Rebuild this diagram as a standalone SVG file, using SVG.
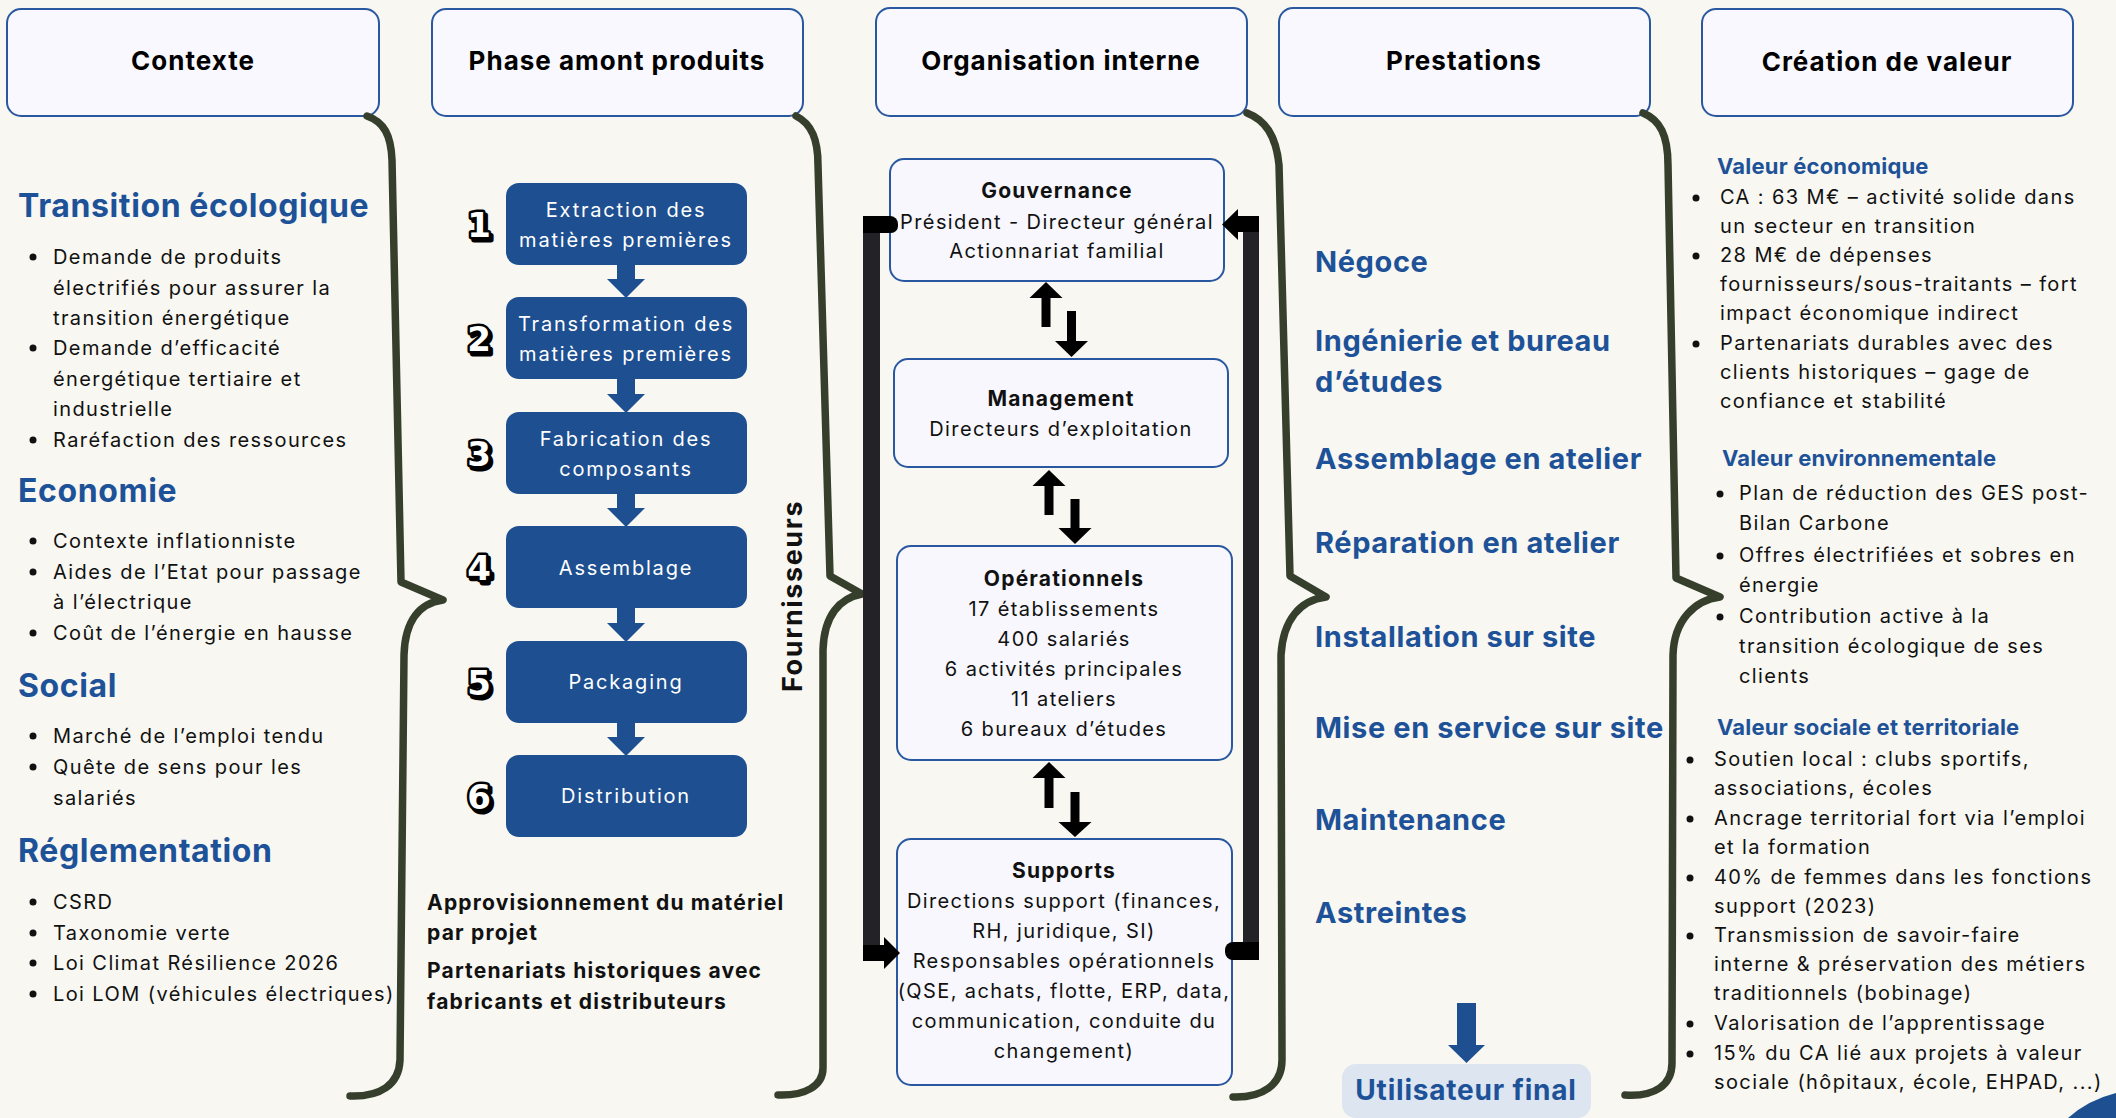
<svg xmlns="http://www.w3.org/2000/svg" width="2116" height="1118" viewBox="0 0 2116 1118">
<style>
.hdr{fill:#f8f8fe;stroke:#2a58a0;stroke-width:2}
.htx{font-family:Inter,"Noto Sans",sans-serif;font-weight:700;font-size:26px;fill:#000;text-anchor:middle;letter-spacing:1px}
.bh{font-family:Inter,"Noto Sans",sans-serif;font-weight:700;font-size:32px;fill:#1e5298;letter-spacing:0.6px}
.ph{font-family:Inter,"Noto Sans",sans-serif;font-weight:700;font-size:29px;fill:#1e5298;letter-spacing:0.6px}
.vh{font-family:Inter,"Noto Sans",sans-serif;font-weight:700;font-size:22px;fill:#1e5298;letter-spacing:0.2px}
.tx{font-family:Inter,"Noto Sans",sans-serif;font-size:20px;fill:#111;letter-spacing:1.4px}
.bk{font-family:Inter,"Noto Sans",sans-serif;font-weight:700;font-size:21px;fill:#111;letter-spacing:1.2px}
.ct{text-anchor:middle}
.wt{font-family:Inter,"Noto Sans",sans-serif;font-size:20px;fill:#fff;text-anchor:middle;letter-spacing:1.8px}
.step{fill:#1d4f91}
.org{fill:#f7f7fd;stroke:#2a58a0;stroke-width:2}
.brace{fill:none;stroke:#353f2c;stroke-width:7.5;stroke-linecap:round;stroke-linejoin:round}
.num{font-family:"DejaVu Sans",sans-serif;font-weight:700;font-size:34px;text-anchor:middle}
.bar{fill:#232327}
.blk{fill:#000}
.barr{fill:#1d4f91}
</style>
<rect width="2116" height="1118" fill="#f8f7f2"/>
<path d="M2068,1118 Q2088,1100 2116,1093 L2116,1118 Z" fill="#1d4f91"/>

<!-- headers -->
<g id="hdr-contexte"><rect class="hdr" x="7" y="9" width="372" height="107" rx="14"/><text class="htx" x="193" y="70">Contexte</text></g>
<g id="hdr-phase"><rect class="hdr" x="432" y="9" width="371" height="107" rx="14"/><text class="htx" x="617" y="70">Phase amont produits</text></g>
<g id="hdr-org"><rect class="hdr" x="876" y="8" width="371" height="108" rx="14"/><text class="htx" x="1061" y="70">Organisation interne</text></g>
<g id="hdr-prest"><rect class="hdr" x="1279" y="8" width="371" height="108" rx="14"/><text class="htx" x="1464" y="70">Prestations</text></g>
<g id="hdr-valeur"><rect class="hdr" x="1702" y="9" width="371" height="107" rx="14"/><text class="htx" x="1887" y="71">Création de valeur</text></g>

<!-- braces -->
<g id="braces">
<path class="brace" d="M367,116 C384,122 391,135 392,160 L401,582 L443,600 C420,603 405,620 404,655 L400,1060 C399,1085 380,1097 350,1096"/>
<path class="brace" d="M796,116 C812,124 818,140 818,165 L830,576 L862,594 C840,598 824,615 823,650 L823,1068 C823,1086 805,1096 778,1095"/>
<path class="brace" d="M1247,113 C1265,120 1276,135 1279,165 L1290,576 L1326,597 C1300,600 1283,620 1281,655 L1282,1060 C1282,1085 1262,1098 1233,1097"/>
<path class="brace" d="M1643,113 C1660,120 1668,135 1668,165 L1676,578 L1720,597 C1695,600 1674,620 1673,655 L1672,1063 C1672,1085 1655,1097 1625,1095"/>
</g>

<!-- Contexte column -->
<g id="contexte">
<text class="bh" x="18" y="217">Transition écologique</text>
<g fill="#111"><circle cx="33" cy="257" r="3.5"/><circle cx="33" cy="348" r="3.5"/><circle cx="33" cy="440" r="3.5"/></g>
<text class="tx" x="53" y="264">Demande de produits</text>
<text class="tx" x="53" y="295">électrifiés pour assurer la</text>
<text class="tx" x="53" y="325">transition énergétique</text>
<text class="tx" x="53" y="355">Demande d’efficacité</text>
<text class="tx" x="53" y="386">énergétique tertiaire et</text>
<text class="tx" x="53" y="416">industrielle</text>
<text class="tx" x="53" y="447">Raréfaction des ressources</text>
<text class="bh" x="18" y="502">Economie</text>
<g fill="#111"><circle cx="33" cy="541" r="3.5"/><circle cx="33" cy="572" r="3.5"/><circle cx="33" cy="633" r="3.5"/></g>
<text class="tx" x="53" y="548">Contexte inflationniste</text>
<text class="tx" x="53" y="579">Aides de l’Etat pour passage</text>
<text class="tx" x="53" y="609">à l’électrique</text>
<text class="tx" x="53" y="640">Coût de l’énergie en hausse</text>
<text class="bh" x="18" y="697">Social</text>
<g fill="#111"><circle cx="33" cy="736" r="3.5"/><circle cx="33" cy="767" r="3.5"/></g>
<text class="tx" x="53" y="743">Marché de l’emploi tendu</text>
<text class="tx" x="53" y="774">Quête de sens pour les</text>
<text class="tx" x="53" y="805">salariés</text>
<text class="bh" x="18" y="862">Réglementation</text>
<g fill="#111"><circle cx="33" cy="902" r="3.5"/><circle cx="33" cy="933" r="3.5"/><circle cx="33" cy="963" r="3.5"/><circle cx="33" cy="994" r="3.5"/></g>
<text class="tx" x="53" y="909">CSRD</text>
<text class="tx" x="53" y="940">Taxonomie verte</text>
<text class="tx" x="53" y="970">Loi Climat Résilience 2026</text>
<text class="tx" x="53" y="1001">Loi LOM (véhicules électriques)</text>
</g>

<!-- Phase amont steps -->
<g id="step1"><rect class="step" x="506" y="183" width="241" height="82" rx="13"/><text class="wt" x="626" y="217">Extraction des</text><text class="wt" x="626" y="247">matières premières</text></g>
<g id="step2"><rect class="step" x="506" y="297" width="241" height="82" rx="13"/><text class="wt" x="626" y="331">Transformation des</text><text class="wt" x="626" y="361">matières premières</text></g>
<g id="step3"><rect class="step" x="506" y="412" width="241" height="82" rx="13"/><text class="wt" x="626" y="446">Fabrication des</text><text class="wt" x="626" y="476">composants</text></g>
<g id="step4"><rect class="step" x="506" y="526" width="241" height="82" rx="13"/><text class="wt" x="626" y="575">Assemblage</text></g>
<g id="step5"><rect class="step" x="506" y="641" width="241" height="82" rx="13"/><text class="wt" x="626" y="689">Packaging</text></g>
<g id="step6"><rect class="step" x="506" y="755" width="241" height="82" rx="13"/><text class="wt" x="626" y="803">Distribution</text></g>

<g id="numbers">
<g fill="#000" stroke="#000" stroke-width="5" stroke-linejoin="round" transform="translate(2.5,2.5)">
<text class="num" x="479" y="237">1</text><text class="num" x="479" y="351">2</text><text class="num" x="479" y="466">3</text><text class="num" x="479" y="580">4</text><text class="num" x="479" y="695">5</text><text class="num" x="479" y="809">6</text>
</g>
<g fill="#fff" stroke="#000" stroke-width="5" paint-order="stroke" stroke-linejoin="round">
<text class="num" x="479" y="237">1</text><text class="num" x="479" y="351">2</text><text class="num" x="479" y="466">3</text><text class="num" x="479" y="580">4</text><text class="num" x="479" y="695">5</text><text class="num" x="479" y="809">6</text>
</g>
</g>

<g id="phase-notes">
<text class="bk" x="427" y="910">Approvisionnement du matériel</text>
<text class="bk" x="427" y="940">par projet</text>
<text class="bk" x="427" y="978">Partenariats historiques avec</text>
<text class="bk" x="427" y="1009">fabricants et distributeurs</text>
</g>

<g id="fournisseurs"><text class="bk" transform="translate(802,596) rotate(-90)" text-anchor="middle" style="font-size:27px;letter-spacing:1.6px">Fournisseurs</text></g>

<!-- Organisation -->
<g id="gouvernance"><rect class="org" x="890" y="159" width="334" height="122" rx="14"/>
<text class="bk ct" x="1057" y="198">Gouvernance</text>
<text class="tx ct" x="1057" y="229">Président - Directeur général</text>
<text class="tx ct" x="1057" y="258">Actionnariat familial</text></g>
<g id="management"><rect class="org" x="894" y="359" width="334" height="108" rx="14"/>
<text class="bk ct" x="1061" y="406">Management</text>
<text class="tx ct" x="1061" y="436">Directeurs d’exploitation</text></g>
<g id="operationnels"><rect class="org" x="897" y="546" width="335" height="214" rx="14"/>
<text class="bk ct" x="1064" y="586">Opérationnels</text>
<text class="tx ct" x="1064" y="616">17 établissements</text>
<text class="tx ct" x="1064" y="646">400 salariés</text>
<text class="tx ct" x="1064" y="676">6 activités principales</text>
<text class="tx ct" x="1064" y="706">11 ateliers</text>
<text class="tx ct" x="1064" y="736">6 bureaux d’études</text></g>
<g id="supports"><rect class="org" x="897" y="839" width="335" height="246" rx="14"/>
<text class="bk ct" x="1064" y="878">Supports</text>
<text class="tx ct" x="1064" y="908">Directions support (finances,</text>
<text class="tx ct" x="1064" y="938">RH, juridique, SI)</text>
<text class="tx ct" x="1064" y="968">Responsables opérationnels</text>
<text class="tx ct" x="1064" y="998">(QSE, achats, flotte, ERP, data,</text>
<text class="tx ct" x="1064" y="1028">communication, conduite du</text>
<text class="tx ct" x="1064" y="1058">changement)</text></g>

<!-- Prestations -->
<g id="prestations">
<text class="ph" x="1315" y="272">Négoce</text>
<text class="ph" x="1315" y="351">Ingénierie et bureau</text>
<text class="ph" x="1315" y="392">d’études</text>
<text class="ph" x="1315" y="469">Assemblage en atelier</text>
<text class="ph" x="1315" y="553">Réparation en atelier</text>
<text class="ph" x="1315" y="647">Installation sur site</text>
<text class="ph" x="1315" y="738">Mise en service sur site</text>
<text class="ph" x="1315" y="830">Maintenance</text>
<text class="ph" x="1315" y="923">Astreintes</text>
</g>
<g id="utilisateur"><rect x="1342" y="1064" width="249" height="54" rx="14" fill="#dde5f1"/>
<text class="ph ct" x="1466" y="1100" style="font-size:28px;letter-spacing:0.8px">Utilisateur final</text></g>

<!-- Création de valeur -->
<g id="valeur">
<text class="vh" x="1717" y="174">Valeur économique</text>
<g fill="#111"><circle cx="1696" cy="198" r="3.5"/><circle cx="1696" cy="256" r="3.5"/><circle cx="1696" cy="344" r="3.5"/></g>
<text class="tx" x="1720" y="204">CA : 63 M€ – activité solide dans</text>
<text class="tx" x="1720" y="233">un secteur en transition</text>
<text class="tx" x="1720" y="262">28 M€ de dépenses</text>
<text class="tx" x="1720" y="291">fournisseurs/sous-traitants – fort</text>
<text class="tx" x="1720" y="320">impact économique indirect</text>
<text class="tx" x="1720" y="350">Partenariats durables avec des</text>
<text class="tx" x="1720" y="379">clients historiques – gage de</text>
<text class="tx" x="1720" y="408">confiance et stabilité</text>
<text class="vh" x="1722" y="466">Valeur environnementale</text>
<g fill="#111"><circle cx="1720" cy="494" r="3.5"/><circle cx="1720" cy="556" r="3.5"/><circle cx="1720" cy="617" r="3.5"/></g>
<text class="tx" x="1739" y="500">Plan de réduction des GES post-</text>
<text class="tx" x="1739" y="530">Bilan Carbone</text>
<text class="tx" x="1739" y="562">Offres électrifiées et sobres en</text>
<text class="tx" x="1739" y="592">énergie</text>
<text class="tx" x="1739" y="623">Contribution active à la</text>
<text class="tx" x="1739" y="653">transition écologique de ses</text>
<text class="tx" x="1739" y="683">clients</text>
<text class="vh" x="1717" y="735">Valeur sociale et territoriale</text>
<g fill="#111"><circle cx="1690" cy="760" r="3.5"/><circle cx="1690" cy="819" r="3.5"/><circle cx="1690" cy="878" r="3.5"/><circle cx="1690" cy="936" r="3.5"/><circle cx="1690" cy="1024" r="3.5"/><circle cx="1690" cy="1054" r="3.5"/></g>
<text class="tx" x="1714" y="766">Soutien local : clubs sportifs,</text>
<text class="tx" x="1714" y="795">associations, écoles</text>
<text class="tx" x="1714" y="825">Ancrage territorial fort via l’emploi</text>
<text class="tx" x="1714" y="854">et la formation</text>
<text class="tx" x="1714" y="884">40% de femmes dans les fonctions</text>
<text class="tx" x="1714" y="913">support (2023)</text>
<text class="tx" x="1714" y="942">Transmission de savoir-faire</text>
<text class="tx" x="1714" y="971">interne &amp; préservation des métiers</text>
<text class="tx" x="1714" y="1000">traditionnels (bobinage)</text>
<text class="tx" x="1714" y="1030">Valorisation de l’apprentissage</text>
<text class="tx" x="1714" y="1060">15% du CA lié aux projets à valeur</text>
<text class="tx" x="1714" y="1089">sociale (hôpitaux, école, EHPAD, ...)</text>
</g>

<!-- connectors -->
<g id="connectors">
<g class="barr">
<path d="M617,264 H635 V279 H645 L626,298 L607,279 H617 Z"/>
<path d="M617,378 H635 V394 H645 L626,413 L607,394 H617 Z"/>
<path d="M617,493 H635 V508 H645 L626,527 L607,508 H617 Z"/>
<path d="M617,607 H635 V623 H645 L626,642 L607,623 H617 Z"/>
<path d="M617,722 H635 V737 H645 L626,756 L607,737 H617 Z"/>
<path d="M1457,1003 H1476 V1045 H1485 L1466.5,1063 L1448,1045 H1457 Z"/>
</g>
<g class="blk">
<path d="M1046,282 L1062.5,298 H1050.5 V327 H1041.5 V298 H1029.5 Z"/>
<path d="M1067,311 H1076 V341 H1088 L1071.5,357 L1055,341 H1067 Z"/>
<path d="M1049,470 L1065.5,486 H1053.5 V515 H1044.5 V486 H1032.5 Z"/>
<path d="M1070.5,499 H1079.5 V528 H1091.5 L1075,544 L1058.5,528 H1070.5 Z"/>
<path d="M1049,762 L1065.5,778 H1053.5 V808 H1044.5 V778 H1032.5 Z"/>
<path d="M1070.5,792 H1079.5 V822 H1091.5 L1075,837 L1058.5,822 H1070.5 Z"/>
</g>
<g id="loop">
<rect class="bar" x="863" y="216" width="17" height="744"/>
<path class="blk" d="M863,216 H890 A8,8 0 0 1 898,224 V226 A7,7 0 0 1 891,233 H863 Z"/>
<path class="blk" d="M863,945 H884 V937 L900,953 L884,969 V961 H863 Z"/>
<rect class="bar" x="1243" y="216" width="16" height="744"/>
<path class="blk" d="M1259,216 H1238 V209 L1222,224.5 L1238,240 V232 H1259 Z"/>
<path class="blk" d="M1259,942 H1233 A8,8 0 0 0 1225,950 V952 A8,8 0 0 0 1233,960 H1259 Z"/>
</g>
</g>
</svg>
